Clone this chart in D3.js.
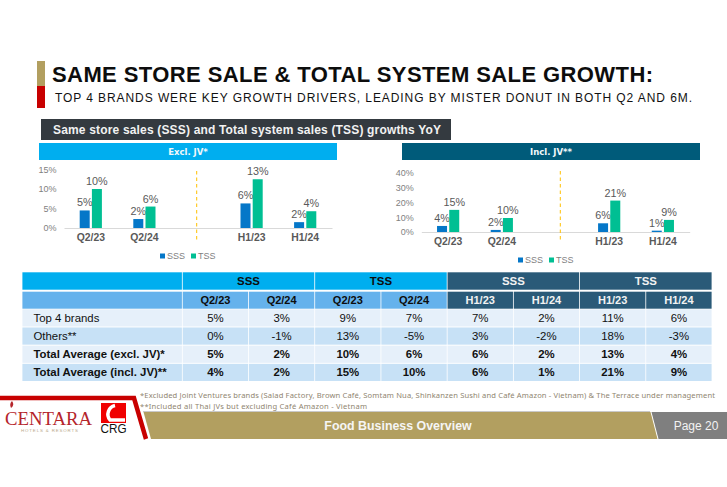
<!DOCTYPE html>
<html>
<head>
    <title>Same Store Sale & Total System Sale Growth</title>
    <script src="https://d3js.org/d3.v7.min.js"></script>
    <style>
        html, body { margin: 0; padding: 0; background: #fff; }
        svg { display: block; font-family: "Liberation Sans", Arial, sans-serif; }
    </style>
</head>
<body>
    <div id="chart"></div>
    <script>
        // Chart data
        const periods = ["Q2/23", "Q2/24", "", "H1/23", "H1/24"];
        const exclSss = [4.5, 2.3, null, 6.3, 1.5];
        const exclTss = [10, 5.5, null, 12.5, 4.3];
        const exclSssLabels = ["5%", "2%", "", "6%", "2%"];
        const exclTssLabels = ["10%", "6%", "", "13%", "4%"];
        const inclSss = [4.1, 1.4, null, 5.9, 0.9];
        const inclTss = [15, 9.5, null, 21.3, 8.2];
        const inclSssLabels = ["4%", "2%", "", "6%", "1%"];
        const inclTssLabels = ["15%", "10%", "", "21%", "9%"];
        const exclTicks = [0, 5, 10, 15];
        const inclTicks = [0, 10, 20, 30, 40];

        // Table data
        const groupHeaders = ["SSS", "TSS", "SSS", "TSS"];
        const columnHeaders = ["Q2/23", "Q2/24", "Q2/23", "Q2/24", "H1/23", "H1/24", "H1/23", "H1/24"];
        const rowLabels = ["Top 4 brands", "Others**", "Total Average (excl. JV)*", "Total Average (incl. JV)**"];
        const rowValues = [
            ["5%", "3%", "9%", "7%", "7%", "2%", "11%", "6%"],
            ["0%", "-1%", "13%", "-5%", "3%", "-2%", "18%", "-3%"],
            ["5%", "2%", "10%", "6%", "6%", "2%", "13%", "4%"],
            ["4%", "2%", "15%", "10%", "6%", "1%", "21%", "9%"]
        ];

        const sssColor = "#0577c8";
        const tssColor = "#00bf93";
        const gold = "#b29f60";
        const red = "#c80000";
        const cyan = "#00aeef";
        const teal = "#005b7a";
        const tableDark = "#2a5a78";

        const svg = d3.select("#chart").append("svg")
            .attr("width", 727).attr("height", 487);

        function fitText(x, y, str, size, width, color, weight, anchor) {
            return svg.append("text")
                .attr("x", x).attr("y", y)
                .attr("font-size", size)
                .attr("font-weight", weight || "normal")
                .attr("fill", color)
                .attr("text-anchor", anchor || "start")
                .attr("textLength", width)
                .attr("lengthAdjust", "spacing")
                .text(str);
        }

        // Title block
        svg.append("rect").attr("x", 37).attr("y", 61).attr("width", 8).attr("height", 25).attr("fill", gold);
        svg.append("rect").attr("x", 37).attr("y", 86).attr("width", 8).attr("height", 22).attr("fill", red);
        fitText(52, 82, "SAME STORE SALE & TOTAL SYSTEM SALE GROWTH:", 22, 601, "#0d0d0d", "bold");
        fitText(55, 102, "TOP 4 BRANDS WERE KEY GROWTH DRIVERS, LEADING BY MISTER DONUT IN BOTH Q2 AND 6M.", 12, 637, "#111");

        svg.append("rect").attr("x", 41).attr("y", 119).attr("width", 410).attr("height", 21).attr("fill", "#343a40");
        fitText(53, 134, "Same store sales (SSS) and Total system sales (TSS) growths YoY", 12, 388, "#f2f2f2", "bold");

        // One small grouped bar chart
        function drawChart(o) {
            const x = d3.scaleBand().domain(d3.range(periods.length)).range([o.x0, o.x1]);
            const y = d3.scaleLinear().domain([0, o.max]).range([o.y0, o.yTop]);
            const barW = 10;
            const gap = 2.2;

            svg.append("rect").attr("x", o.headX).attr("y", 143).attr("width", 298).attr("height", 17).attr("fill", o.headColor);
            svg.append("text").attr("x", o.headX + 149).attr("y", 155).attr("text-anchor", "middle")
                .attr("font-family", "DejaVu Sans").attr("font-size", 8.5).attr("font-weight", "bold")
                .attr("fill", "#f2f8fb").text(o.head);

            const yAxis = svg.append("g").attr("transform", `translate(${o.x0 - 7.5},0)`)
                .call(d3.axisLeft(y).tickValues(o.ticks).tickSize(0).tickPadding(0).tickFormat(d => d + "%"));
            yAxis.select(".domain").remove();
            yAxis.selectAll("text").attr("font-family", "Liberation Sans").attr("font-size", 9).attr("fill", "#7f7f7f");

            const xAxis = svg.append("g").attr("transform", `translate(0,${o.y0})`)
                .call(d3.axisBottom(x).tickSize(0).tickPadding(5.5).tickFormat(i => periods[i]));
            xAxis.select(".domain").attr("stroke", "#d9d9d9").attr("stroke-width", 1);
            xAxis.selectAll("text").attr("font-family", "Liberation Sans").attr("font-size", 10.4)
                .attr("font-weight", "bold").attr("fill", "#595959");

            const series = [
                { vals: o.sss, labels: o.sssLabels, color: sssColor, dx: -gap / 2 - barW },
                { vals: o.tss, labels: o.tssLabels, color: tssColor, dx: gap / 2 }
            ];
            series.forEach(s => {
                const idx = d3.range(periods.length).filter(i => s.vals[i] !== null);
                svg.append("g").selectAll("rect").data(idx).join("rect")
                    .attr("x", i => x(i) + x.bandwidth() / 2 + s.dx)
                    .attr("y", i => y(s.vals[i]))
                    .attr("width", barW)
                    .attr("height", i => o.y0 - y(s.vals[i]))
                    .attr("fill", s.color);
                svg.append("g").selectAll("text").data(idx).join("text")
                    .attr("x", i => x(i) + x.bandwidth() / 2 + s.dx + barW / 2)
                    .attr("y", i => y(s.vals[i]) - 4)
                    .attr("text-anchor", "middle")
                    .attr("font-size", 10.8).attr("fill", "#595959")
                    .text(i => s.labels[i]);
            });

            // dashed divider sits in the empty middle slot
            svg.append("line")
                .attr("x1", o.divX).attr("x2", o.divX)
                .attr("y1", 171).attr("y2", 240)
                .attr("stroke", "#ffc000").attr("stroke-width", 1)
                .attr("stroke-dasharray", "3.5,3");

            // legend
            [["SSS", sssColor, o.legendX], ["TSS", tssColor, o.legendX + 31]].forEach(l => {
                svg.append("rect").attr("x", l[2]).attr("y", o.legendY - 2.5).attr("width", 5).attr("height", 5).attr("fill", l[1]);
                svg.append("text").attr("x", l[2] + 7).attr("y", o.legendY + 3)
                    .attr("font-size", 9).attr("fill", "#7f7f7f").text(l[0]);
            });
        }

        drawChart({
            x0: 64, x1: 332, y0: 228, yTop: 169.5, max: 15, ticks: exclTicks,
            sss: exclSss, tss: exclTss, sssLabels: exclSssLabels, tssLabels: exclTssLabels,
            head: "Excl. JV*", headX: 39, headColor: cyan, divX: 196.7, legendX: 160, legendY: 256
        });
        drawChart({
            x0: 421.3, x1: 689.7, y0: 232, yTop: 173, max: 40, ticks: inclTicks,
            sss: inclSss, tss: inclTss, sssLabels: inclSssLabels, tssLabels: inclTssLabels,
            head: "Incl. JV**", headX: 402, headColor: teal, divX: 560.3, legendX: 518, legendY: 260
        });

        // Table
        const colX = d3.scaleBand().domain(d3.range(columnHeaders.length)).range([182.3, 712]);
        const rowY = d3.scaleBand().domain(d3.range(rowLabels.length)).range([309.3, 382]);
        const cw = colX.bandwidth();
        const table = svg.append("g");

        function cell(x, y, w, h, fill) {
            table.append("rect").attr("x", x + 0.4).attr("y", y).attr("width", w - 0.8).attr("height", h).attr("fill", fill);
        }
        function cellText(x, y, str, size, weight, color, anchor) {
            return svg.append("text").attr("x", x).attr("y", y)
                .attr("text-anchor", anchor || "middle")
                .attr("font-size", size).attr("font-weight", weight).attr("fill", color)
                .text(str);
        }

        cell(22, 272.3, 160.3, 17.4, cyan);
        cell(22, 291.7, 160.3, 17, "#65b2ec");
        groupHeaders.forEach((g, i) => {
            const dark = i > 1;
            cell(colX(i * 2), 272.3, cw * 2, 17.4, dark ? tableDark : cyan);
            cellText(colX(i * 2) + cw, 284.8, g, 11.4, "bold", dark ? "#f2f2f2" : "#0d0d0d");
        });
        columnHeaders.forEach((c, i) => {
            const dark = i > 3;
            cell(colX(i), 291.7, cw, 17, dark ? tableDark : "#65b2ec");
            cellText(colX(i) + cw / 2, 304, c, 11, "bold", dark ? "#f2f2f2" : "#0d0d0d");
        });
        rowLabels.forEach((label, r) => {
            const fill = r % 2 ? "#c7e1f6" : "#e6f0fa";
            const weight = r > 1 ? "bold" : "normal";
            const h = rowY.bandwidth() - 1;
            cell(22, rowY(r), 160.3, h, fill);
            cellText(33.5, rowY(r) + 12.6, label, 11.4, weight, "#111", "start");
            rowValues[r].forEach((v, i) => {
                cell(colX(i), rowY(r), cw, h, fill);
                cellText(colX(i) + cw / 2, rowY(r) + 12.6, v, 11.4, weight, "#111");
            });
        });

        // Footnotes
        const noteFont = "Noto Sans";
        fitText(140, 398, "*Excluded Joint Ventures brands (Salad Factory, Brown Café, Somtam Nua, Shinkanzen Sushi and Café Amazon  - Vietnam) & The Terrace under management", 7.6, 575, "#8f8570", "normal").attr("font-family", noteFont);
        fitText(140, 409, "**Included all Thai JVs but excluding Café Amazon  - Vietnam", 7.6, 227, "#8f8570", "normal").attr("font-family", noteFont);

        // Footer band
        svg.append("path").attr("d", "M143.5,412 L650.5,412 L657.5,439 L151,439 Z").attr("fill", gold);
        svg.append("line").attr("x1", 143).attr("x2", 650).attr("y1", 411.5).attr("y2", 411.5).attr("stroke", "#c9c9c9");
        svg.append("path").attr("d", "M651.5,412 L727,412 L727,439 L658.5,439 Z").attr("fill", "#7f7f7f");
        svg.append("path").attr("d", "M0,398 L134,398 L146,439").attr("fill", "none").attr("stroke", red).attr("stroke-width", 4.5);
        cellText(398, 430, "Food Business Overview", 12.4, "bold", "#f5f5f5");
        cellText(696, 430, "Page 20", 12, "normal", "#f2f2f2");

        // Logos
        svg.append("text").attr("x", 5).attr("y", 424.5).attr("font-family", "Liberation Serif")
            .attr("font-size", 18).attr("fill", "#b5252b").attr("textLength", 87).attr("lengthAdjust", "spacingAndGlyphs").text("CENTARA");
        svg.append("path").attr("d", "M11,408 Q15,405 12,401 Q9,404 11,408 Z").attr("fill", "#b5252b");
        svg.append("text").attr("x", 21).attr("y", 431.5).attr("font-size", 4.4).attr("fill", "#b9a98a")
            .attr("textLength", 57).text("HOTELS & RESORTS");
        svg.append("rect").attr("x", 101).attr("y", 403).attr("width", 25).attr("height", 20).attr("fill", "#f00000");
        svg.append("path").attr("d", "M115,405.5 A9,9 0 0 0 110,420 L125,420").attr("fill", "none").attr("stroke", "#fff").attr("stroke-width", 3.5);
        svg.append("text").attr("x", 100.5).attr("y", 433).attr("font-size", 13).attr("fill", "#111")
            .attr("textLength", 26).attr("lengthAdjust", "spacingAndGlyphs").text("CRG");
    </script>
</body>
</html>
